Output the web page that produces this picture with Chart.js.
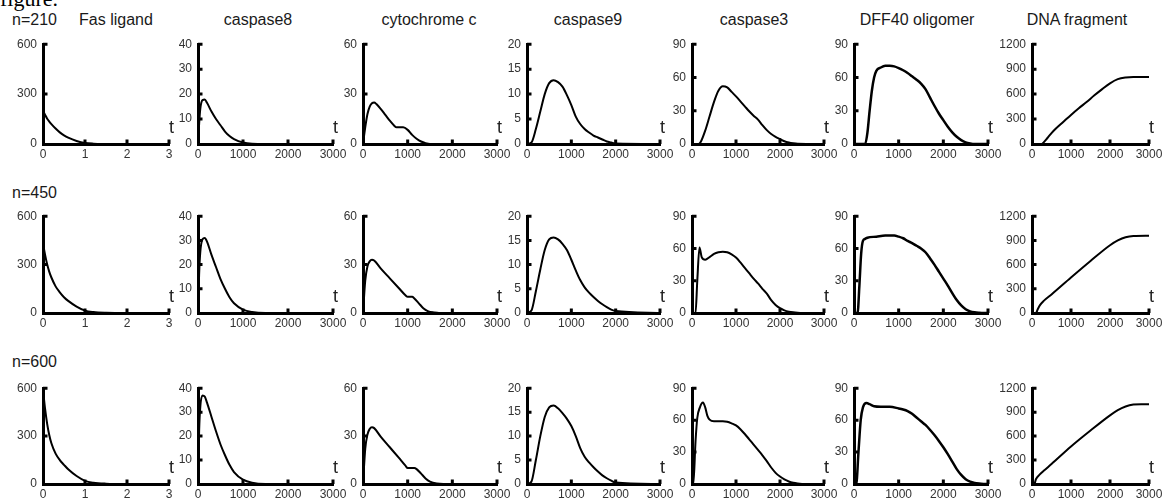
<!DOCTYPE html>
<html>
<head>
<meta charset="utf-8">
<script src="https://cdn.jsdelivr.net/npm/chart.js@4.4.1/dist/chart.umd.min.js"></script>
<style>
  html, body { margin: 0; padding: 0; background: #fff; }
  #fig { position: relative; width: 1173px; height: 502px; overflow: hidden; font-family: "Liberation Sans", Arial, sans-serif; }
  #fig canvas { position: absolute; }
  .lbl { position: absolute; font-size: 16px; line-height: 16px; color: #1a1a1a; white-space: nowrap; }
  .cap { position: absolute; left: 0; top: -12px; font-family: "Liberation Serif", serif; font-size: 22px; line-height: 22px; color: #000; }
</style>
</head>
<body>
<div id="fig"><div class="cap">figure.</div></div>
<script>
// ---- titles / tick setup ----
const rowTitles = ['n=210', 'n=450', 'n=600'];
const colTitles = ['Fas ligand', 'caspase8', 'cytochrome c', 'caspase9', 'caspase3', 'DFF40 oligomer', 'DNA fragment'];
const yMax  = [600, 40, 60, 20, 90, 90, 1200];
const yStep = [300, 10, 30, 5, 30, 30, 300];
const xMax  = [3, 3000, 3000, 3000, 3000, 3000, 3000];
const xStep = [1, 1000, 1000, 1000, 1000, 1000, 1000];

// ---- data ----
// Fas ligand, t in 0..3
const fasT   = [0, 0.05, 0.1, 0.15, 0.2, 0.3, 0.4, 0.5, 0.6, 0.8, 1.0, 1.2, 1.5, 2, 3];
const fas210 = [200, 175, 152, 135, 120, 93, 70, 52, 38, 18, 6, 2, 0.5, 0, 0];
const fas450 = [430, 360, 300, 255, 220, 165, 128, 98, 75, 40, 15, 6, 1.5, 0, 0];
const fas600 = [590, 470, 375, 305, 255, 190, 150, 120, 92, 50, 20, 8, 2, 0, 0];

// caspase8
const casp8T   = [0, 25, 50, 100, 150, 200, 300, 400, 500, 600, 700, 800, 1000, 1200, 1500, 3000];
const casp8210 = [0, 8, 14, 17.6, 17.8, 16.5, 13, 10, 7.5, 5, 3.2, 2, 0.6, 0.1, 0, 0];
const casp8450 = [0, 16, 25, 30.5, 31, 29.5, 24, 19, 14, 10, 6.5, 4, 1.4, 0.4, 0, 0];
const casp8600 = [0, 22, 32, 37, 36.5, 34, 28, 22, 16.5, 12, 8, 5, 1.8, 0.5, 0, 0];

// cytochrome c
const cytoT210 = [0, 50, 100, 150, 200, 250, 300, 400, 500, 600, 700, 750, 900, 1000, 1100, 1200, 1300, 1400, 1500, 3000];
const cyto210  = [0, 10, 18, 22.5, 24.5, 25, 24, 21, 17.5, 14, 11, 10, 10, 8.5, 5.5, 3.2, 1.5, 0.5, 0, 0];
const cytoT450 = [0, 50, 100, 150, 200, 250, 400, 600, 800, 950, 1000, 1100, 1150, 1250, 1350, 1450, 1600, 1700, 3000];
const cyto450  = [0, 20, 29, 32, 33, 32.5, 27.5, 21.5, 15.5, 11, 10, 10, 9, 6, 3, 1.2, 0.3, 0, 0];
const cytoT600 = [0, 50, 100, 150, 200, 250, 400, 600, 800, 950, 1000, 1150, 1200, 1300, 1400, 1500, 1650, 1800, 3000];
const cyto600  = [0, 22, 31, 34.5, 35.5, 35, 29.5, 23, 16.5, 11.5, 10, 10, 9.3, 6.5, 3.5, 1.5, 0.3, 0, 0];

// caspase9
const casp9T   = [0, 100, 200, 300, 400, 500, 600, 700, 800, 900, 1000, 1100, 1200, 1300, 1400, 1500, 1600, 1700, 1800, 1900, 2000, 3000];
const casp9210 = [0, 0.3, 3, 6.5, 10, 12.2, 12.8, 12.4, 11.5, 9.8, 7.8, 5.5, 4, 3, 2.3, 1.7, 1.3, 0.9, 0.5, 0.3, 0.1, 0];
const casp9450 = [0, 0.5, 4.5, 9, 13, 15.2, 15.6, 15.2, 14.3, 13, 11, 8.8, 6.8, 5.3, 4.2, 3.3, 2.5, 1.8, 1.2, 0.7, 0.4, 0];
const casp9600 = [0, 0.5, 5, 10, 14, 16, 16.4, 15.8, 14.8, 13.6, 12.1, 10, 7.5, 5.7, 4.5, 3.5, 2.6, 1.8, 1.2, 0.7, 0.3, 0];

// caspase3
const casp3T210 = [0, 150, 200, 300, 400, 500, 600, 700, 800, 900, 1000, 1100, 1200, 1300, 1400, 1500, 1600, 1700, 1800, 1900, 2000, 2100, 2200, 2300, 2400, 3000];
const casp3210  = [0, 0, 2, 12, 25, 38, 48, 52, 51, 47, 43, 38.5, 34, 29.5, 25.5, 22, 17, 12.5, 9, 6.5, 4.5, 2.5, 1.3, 0.6, 0.2, 0];
const casp3T450 = [0, 80, 120, 170, 220, 300, 400, 500, 600, 700, 800, 900, 1000, 1100, 1200, 1300, 1400, 1500, 1600, 1700, 1800, 1900, 2000, 2100, 2200, 2300, 2400, 2500, 3000];
const casp3450  = [0, 0, 30, 61, 52, 49.5, 52, 55, 56.5, 57, 56.5, 54.5, 51.5, 47, 42, 37, 32, 27.5, 22.5, 18, 12, 7.5, 4.5, 2.5, 1.3, 0.6, 0.2, 0, 0];
const casp3T600 = [0, 30, 80, 120, 180, 250, 300, 350, 400, 500, 700, 800, 900, 1000, 1100, 1200, 1300, 1400, 1500, 1600, 1700, 1800, 1900, 2000, 2100, 2200, 2300, 2400, 2500, 2600, 3000];
const casp3600  = [0, 0, 40, 62, 72, 76.5, 72, 64, 60.5, 59, 59, 58.5, 57, 55, 51.5, 47, 42, 37, 32, 27, 21.5, 15.5, 10.5, 7, 4.3, 2.4, 1.2, 0.5, 0.1, 0, 0];

// DFF40 oligomer
const dffT210 = [0, 250, 300, 350, 400, 450, 500, 600, 700, 800, 900, 1000, 1100, 1200, 1300, 1400, 1500, 1600, 1700, 1800, 1900, 2000, 2100, 2200, 2300, 2400, 2500, 2600, 2700, 3000];
const dff210  = [0, 0, 10, 30, 48, 60, 66, 69, 70.5, 70.5, 70, 68.5, 66.5, 64, 61, 58, 54.5, 49.5, 42, 34.5, 27.5, 21.5, 15.5, 10.5, 6.5, 3.5, 1.5, 0.5, 0, 0];
const dffT450 = [0, 80, 120, 160, 200, 250, 300, 500, 700, 900, 1000, 1100, 1200, 1300, 1400, 1500, 1600, 1700, 1800, 1900, 2000, 2100, 2200, 2300, 2400, 2500, 2600, 2700, 2800, 2900, 3000];
const dff450  = [0, 0, 25, 55, 67, 69, 70, 71, 72, 72, 71, 69.5, 67, 65, 62.5, 60, 56.5, 51, 45, 38.5, 32, 25.5, 18.5, 12, 7, 3.5, 1.5, 0.6, 0.2, 0, 0];
const dffT600 = [0, 50, 100, 150, 200, 280, 350, 450, 600, 800, 1000, 1100, 1200, 1300, 1400, 1500, 1600, 1700, 1800, 1900, 2000, 2100, 2200, 2300, 2400, 2500, 2600, 2700, 2800, 2900, 3000];
const dff600  = [0, 0, 30, 60, 72, 76, 75, 73, 72.5, 72.5, 71, 70, 68.5, 66, 62.5, 59, 55.5, 51, 46, 40.5, 34.5, 28, 21, 14, 8.5, 4.5, 2.2, 1, 0.4, 0.1, 0];

// DNA fragment
const dnaT210 = [0, 250, 300, 400, 500, 600, 800, 1000, 1200, 1400, 1600, 1800, 2000, 2200, 2400, 2600, 3000];
const dna210  = [0, 0, 20, 75, 130, 180, 265, 350, 430, 505, 585, 660, 730, 780, 800, 806, 806];
const dnaT450 = [0, 100, 150, 200, 300, 500, 1000, 1500, 2000, 2200, 2400, 2600, 3000];
const dna450  = [0, 0, 50, 95, 150, 230, 440, 645, 840, 900, 940, 955, 958];
const dnaT600 = [0, 60, 100, 200, 300, 500, 1000, 1500, 2000, 2200, 2400, 2600, 2800, 3000];
const dna600  = [0, 0, 60, 120, 165, 250, 470, 670, 860, 925, 970, 995, 1000, 1000];

// [row][col] -> [t, values]
const series = [
  [[fasT, fas210], [casp8T, casp8210], [cytoT210, cyto210], [casp9T, casp9210], [casp3T210, casp3210], [dffT210, dff210], [dnaT210, dna210]],
  [[fasT, fas450], [casp8T, casp8450], [cytoT450, cyto450], [casp9T, casp9450], [casp3T450, casp3450], [dffT450, dff450], [dnaT450, dna450]],
  [[fasT, fas600], [casp8T, casp8600], [cytoT600, cyto600], [casp9T, casp9600], [casp3T600, casp3600], [dffT600, dff600], [dnaT600, dna600]]
];

// ---- layout (pixels) ----
const axisX  = [43, 198, 363, 527, 692, 854, 1032];
const endX   = [169, 333, 497, 660, 824, 988, 1149];
const topY   = [43, 215, 387];
const zeroY  = [144, 313, 484];
const titleCX = [116, 258, 429, 588, 754, 917, 1077];
const rowBase = [25, 198, 367];
const PAD_L = 40, PAD_T = 12, PAD_R = 22, PAD_B = 24;

const fig = document.getElementById('fig');

function addLabel(text, x, baseline, center) {
  const d = document.createElement('div');
  d.className = 'lbl';
  d.textContent = text;
  d.style.left = x + 'px';
  d.style.top = (baseline - 13.5) + 'px';
  if (center) d.style.transform = 'translateX(-50%)';
  fig.appendChild(d);
}

rowTitles.forEach((t, r) => addLabel(t, 12, rowBase[r], false));
colTitles.forEach((t, c) => addLabel(t, titleCX[c], rowBase[0], true));

// small inward tick marks + the "t" axis label
const innerTicks = {
  id: 'innerTicks',
  afterDraw(chart) {
    const { ctx, chartArea: a, scales: { x, y } } = chart;
    ctx.save();
    ctx.strokeStyle = '#000';
    ctx.lineWidth = 3;
    ctx.beginPath();
    x.ticks.forEach(tk => {
      if (tk.value === x.min) return;
      const px = x.getPixelForValue(tk.value);
      ctx.moveTo(px, a.bottom);
      ctx.lineTo(px, a.bottom - 4.5);
    });
    y.ticks.forEach(tk => {
      if (tk.value === y.min) return;
      const py = y.getPixelForValue(tk.value);
      ctx.moveTo(a.left, py);
      ctx.lineTo(a.left + 4.5, py);
    });
    ctx.stroke();
    ctx.fillStyle = '#222';
    ctx.font = '18px "Liberation Sans", Arial, sans-serif';
    ctx.textAlign = 'center';
    ctx.textBaseline = 'alphabetic';
    ctx.fillText('t', a.right + 2.5, a.bottom - 11);
    ctx.restore();
  }
};

const tickFont = { family: '"Liberation Sans", Arial, sans-serif', size: 12 };

for (let r = 0; r < 3; r++) {
  for (let c = 0; c < 7; c++) {
    const [tt, vals] = series[r][c];
    const w = endX[c] - axisX[c] + PAD_L + PAD_R;
    const h = zeroY[r] - topY[r] + PAD_T + PAD_B;
    const cv = document.createElement('canvas');
    cv.width = w;
    cv.height = h;
    cv.style.left = (axisX[c] - PAD_L) + 'px';
    cv.style.top = (topY[r] - PAD_T) + 'px';
    cv.style.width = w + 'px';
    cv.style.height = h + 'px';
    fig.appendChild(cv);

    new Chart(cv, {
      type: 'line',
      data: {
        datasets: [{
          data: tt.map((x, i) => ({ x, y: vals[i] })),
          borderColor: '#000',
          borderWidth: c === 5 ? 2.5 : 2,
          pointRadius: 0,
          fill: false,
          cubicInterpolationMode: 'monotone'
        }]
      },
      options: {
        responsive: false,
        animation: false,
        events: [],
        layout: { padding: { left: 0, top: PAD_T, right: PAD_R, bottom: 0 } },
        plugins: { legend: { display: false }, tooltip: { enabled: false } },
        scales: {
          x: {
            type: 'linear',
            min: 0,
            max: xMax[c],
            afterFit: s => { s.height = PAD_B; },
            grid: { display: false, drawTicks: false },
            border: { display: true, color: '#000', width: 3 },
            ticks: {
              stepSize: xStep[c],
              autoSkip: false,
              maxRotation: 0,
              padding: 3,
              color: '#333',
              font: tickFont,
              callback: v => String(v)
            }
          },
          y: {
            min: 0,
            max: yMax[c],
            afterFit: s => { s.width = PAD_L; },
            grid: { display: false, drawTicks: false },
            border: { display: true, color: '#000', width: 3 },
            ticks: {
              stepSize: yStep[c],
              padding: 6,
              color: '#333',
              font: tickFont,
              callback: v => String(v)
            }
          }
        }
      },
      plugins: [innerTicks]
    });
  }
}
</script>
</body>
</html>
